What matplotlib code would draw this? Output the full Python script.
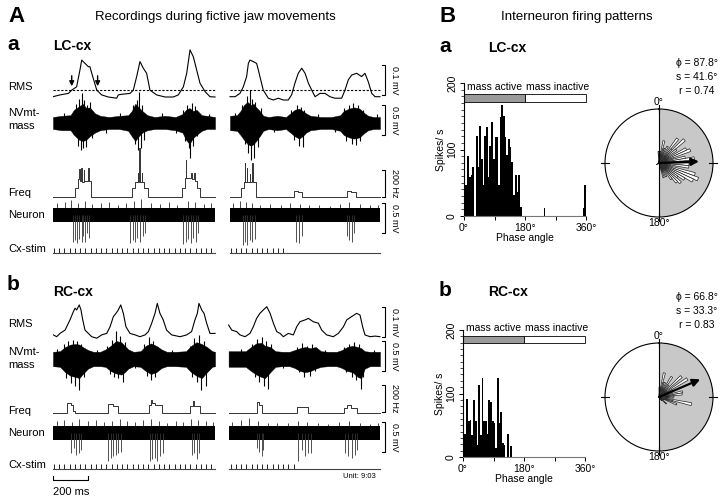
import numpy as np
import matplotlib.pyplot as plt
from matplotlib.patches import Rectangle

plt.rcParams['font.family'] = ['Liberation Sans', 'DejaVu Sans']

W, H = 720, 498
PX_PER_MS = 35 / 200.0   # 200 ms scale bar is 35 px long

# ---------------- data: panel A (time in ms, amplitudes in mV / Hz) ----------------
# a: LC-cx, left and right sweeps
rms_a_left_t = [0, 40, 88, 107, 135, 154, 164, 183, 202, 211, 227, 250, 278, 316, 364, 373, 392, 440, 459,
                478, 497, 516, 535, 554, 592, 640, 687, 716, 745, 764, 783, 802, 821, 840, 869, 897, 926]
rms_a_left = [0.001, 0.007, 0.012, 0.023, 0.034, 0.09, 0.123, 0.112, 0.101, 0.101, 0.068, 0.023, 0.007, 0.0,
              -0.004, 0.007, 0.009, 0.012, 0.023, 0.068, 0.118, 0.096, 0.079, 0.023, 0.007, 0.0, 0.0, 0.007,
              0.034, 0.079, 0.157, 0.134, 0.09, 0.046, 0.018, 0.001, 0.0]
rms_a_right_t = [0, 29, 57, 76, 95, 105, 114, 133, 152, 162, 171, 190, 219, 248, 276, 305, 333, 352, 371, 390,
                 410, 429, 448, 467, 486, 514, 543, 571, 600, 638, 657, 676, 695, 724, 752, 771, 790, 810, 829, 857]
rms_a_right = [0.001, 0.001, 0.012, 0.034, 0.068, 0.112, 0.123, 0.118, 0.112, 0.09, 0.068, 0.023, -0.004, -0.01,
               -0.004, -0.01, -0.01, 0.007, 0.046, 0.079, 0.096, 0.079, 0.046, 0.023, 0.001, 0.012, 0.012, 0.001,
               -0.004, -0.004, 0.023, 0.057, 0.073, 0.079, 0.068, 0.079, 0.051, 0.012, 0.001, 0.001]
rms_threshold = 0.022
arrow_times = [107, 255]

emg_a_left_t = [0, 50, 100, 120, 150, 170, 190, 210, 240, 270, 320, 380, 430, 450, 470, 490, 510, 540, 580,
                640, 700, 740, 760, 780, 800, 820, 850, 880, 926]
emg_a_left_up = [0.1, 0.12, 0.13, 0.22, 0.28, 0.32, 0.25, 0.26, 0.16, 0.12, 0.1, 0.12, 0.13, 0.2, 0.32, 0.26,
                 0.2, 0.13, 0.1, 0.12, 0.1, 0.15, 0.22, 0.25, 0.2, 0.22, 0.13, 0.12, 0.1]
emg_a_left_lo = [-0.1, -0.12, -0.12, -0.2, -0.28, -0.3, -0.28, -0.22, -0.16, -0.12, -0.1, -0.1, -0.13, -0.22,
                 -0.3, -0.22, -0.16, -0.12, -0.1, -0.1, -0.12, -0.16, -0.28, -0.35, -0.25, -0.2, -0.13, -0.1, -0.1]
emg_a_left_sp_t = [60, 130, 142, 150, 158, 164, 170, 178, 186, 196, 210, 222, 300, 380, 455, 468, 478, 486, 493,
                   500, 510, 520, 620, 700, 745, 755, 765, 775, 783, 792, 802, 812, 825, 890]
emg_a_left_sp = [0.17, 0.32, -0.38, 0.4, -0.45, 0.5, -0.42, 0.38, -0.4, 0.3, 0.35, -0.25, -0.16, 0.17, 0.3,
                 -0.35, 0.38, -0.45, 0.52, -0.42, 0.3, -0.28, 0.16, -0.16, 0.22, -0.3, 0.3, -0.42, -0.58, 0.33,
                 -0.38, 0.28, -0.22, 0.15]
emg_a_right_t = [0, 40, 60, 80, 100, 120, 135, 150, 170, 190, 220, 270, 320, 345, 370, 395, 415, 435, 460, 520,
                 580, 630, 650, 680, 710, 740, 770, 790, 820, 857]
emg_a_right_up = [0.12, 0.13, 0.2, 0.3, 0.35, 0.3, 0.32, 0.26, 0.2, 0.12, 0.1, 0.12, 0.1, 0.16, 0.22, 0.24, 0.2,
                  0.16, 0.12, 0.1, 0.1, 0.13, 0.2, 0.24, 0.26, 0.24, 0.16, 0.12, 0.1, 0.1]
emg_a_right_lo = [-0.12, -0.13, -0.2, -0.28, -0.35, -0.38, -0.35, -0.3, -0.22, -0.13, -0.1, -0.12, -0.1, -0.16,
                  -0.22, -0.26, -0.22, -0.16, -0.12, -0.1, -0.1, -0.13, -0.2, -0.24, -0.26, -0.24, -0.16, -0.12,
                  -0.1, -0.1]
emg_a_right_sp_t = [30, 70, 85, 95, 105, 112, 120, 128, 136, 145, 160, 175, 250, 350, 365, 380, 395, 405, 415,
                    425, 500, 600, 650, 665, 680, 695, 705, 718, 730, 745, 760, 840]
emg_a_right_sp = [0.16, 0.3, -0.35, 0.45, -0.5, 0.55, -0.62, 0.4, -0.58, 0.35, -0.4, 0.25, -0.15, 0.22, -0.28,
                  0.3, -0.38, 0.27, -0.4, 0.22, 0.15, -0.15, 0.25, -0.3, 0.3, -0.35, 0.33, -0.37, 0.3, -0.3, 0.22,
                  0.15]

freq_a_left_t = [0, 126, 145, 150, 153, 160, 163, 175, 178, 200, 204, 215, 450, 469, 484, 488, 493, 497, 507,
                 510, 520, 545, 735, 754, 758, 762, 790, 795, 808, 812, 825, 840, 926]
freq_a_left = [0, 64, 130, 210, 120, 215, 110, 200, 120, 215, 120, 0, 64, 110, 175, 110, 360, 110, 175, 110,
               64, 0, 64, 140, 275, 140, 175, 130, 175, 120, 64, 0, 0]
freq_a_right_t = [0, 61, 80, 84, 86, 97, 99, 112, 114, 126, 129, 149, 366, 390, 410, 667, 690, 720, 857]
freq_a_right = [0, 64, 110, 250, 110, 212, 110, 170, 110, 250, 110, 0, 45, 35, 0, 45, 35, 0, 0]

unit_a_left_dn_t = [114, 126, 135, 150, 164, 173, 183, 196, 208, 440, 455, 469, 482, 497, 512, 526,
                    745, 760, 773, 787, 802, 817, 830]
unit_a_left_dn = [-0.45, -0.42, -0.47, -0.4, -0.45, -0.35, -0.45, -0.3, -0.38, -0.47, -0.42, -0.45, -0.38,
                  -0.45, -0.35, -0.3, -0.48, -0.45, -0.4, -0.47, -0.38, -0.45, -0.3]
unit_a_left_up_t = [25, 70, 105, 145, 185, 225, 275, 320, 370, 415, 465, 500, 560, 610, 660, 710, 770, 810, 860, 905]
unit_a_left_up = [0.2, 0.22, 0.25, 0.2, 0.24, 0.18, 0.2, 0.22, 0.17, 0.2, 0.24, 0.26, 0.2, 0.18, 0.22, 0.17,
                  0.24, 0.22, 0.18, 0.2]
unit_a_right_dn_t = [72, 86, 99, 114, 128, 141, 377, 396, 410, 667, 682, 695, 709]
unit_a_right_dn = [-0.5, -0.45, -0.5, -0.42, -0.45, -0.4, -0.45, -0.47, -0.35, -0.35, -0.42, -0.45, -0.3]
unit_a_right_up_t = [15, 55, 90, 125, 170, 230, 290, 345, 400, 450, 510, 570, 630, 680, 740, 800, 845]
unit_a_right_up = [0.2, 0.24, 0.22, 0.2, 0.17, 0.18, 0.16, 0.2, 0.18, 0.16, 0.17, 0.15, 0.18, 0.22, 0.18,
                   0.16, 0.17]

# b: RC-cx
rms_b_left_t = [2, 21, 40, 69, 97, 116, 126, 135, 150, 160, 170, 183, 202, 221, 250, 278, 307, 326, 345, 360,
                373, 387, 402, 417, 440, 469, 497, 526, 545, 564, 583, 596, 611, 630, 649, 678, 726, 764, 792,
                811, 825, 834, 850, 863, 878, 897, 926]
rms_b_left = [0.007, 0.001, 0.012, 0.023, 0.057, 0.084, 0.096, 0.09, 0.107, 0.09, 0.057, 0.023, 0.012, 0.001,
              -0.004, 0.007, 0.012, 0.034, 0.068, 0.079, 0.09, 0.107, 0.079, 0.034, 0.012, 0.007, 0.001, 0.007,
              0.018, 0.046, 0.079, 0.112, 0.079, 0.057, 0.023, 0.007, 0.001, 0.007, 0.018, 0.057, 0.079, 0.112,
              0.09, 0.079, 0.046, 0.012, 0.012]
rms_b_right_t = [-8, 10, 38, 57, 86, 114, 133, 152, 171, 190, 210, 229, 248, 267, 286, 305, 333, 362, 381, 400,
                 429, 448, 476, 505, 524, 552, 590, 619, 648, 667, 695, 724, 743, 758, 771, 800, 829, 857]
rms_b_right = [0.04, 0.023, 0.018, 0.007, 0.001, 0.012, 0.034, 0.062, 0.079, 0.09, 0.101, 0.079, 0.046, 0.018,
               0.012, 0.001, 0.012, 0.007, 0.034, 0.051, 0.057, 0.062, 0.051, 0.046, 0.023, 0.007, 0.001, 0.012,
               0.034, 0.057, 0.068, 0.079, 0.073, 0.034, 0.007, 0.001, 0.003, 0.001]

emg_b_left_t = [0, 40, 70, 100, 130, 150, 170, 200, 230, 270, 300, 330, 360, 390, 410, 430, 460, 500, 530, 560,
                590, 620, 650, 700, 760, 790, 820, 850, 880, 910, 926]
emg_b_left_up = [0.12, 0.13, 0.2, 0.24, 0.25, 0.24, 0.2, 0.15, 0.12, 0.12, 0.16, 0.22, 0.3, 0.28, 0.22, 0.16,
                 0.12, 0.13, 0.22, 0.26, 0.22, 0.16, 0.12, 0.12, 0.13, 0.22, 0.28, 0.25, 0.2, 0.13, 0.12]
emg_b_left_lo = [-0.12, -0.13, -0.22, -0.28, -0.3, -0.32, -0.25, -0.16, -0.12, -0.12, -0.13, -0.2, -0.24, -0.26,
                 -0.22, -0.16, -0.12, -0.13, -0.2, -0.25, -0.22, -0.15, -0.12, -0.12, -0.13, -0.22, -0.28, -0.32,
                 -0.22, -0.13, -0.12]
emg_b_left_sp_t = [20, 60, 75, 88, 100, 112, 125, 138, 150, 160, 175, 250, 310, 325, 338, 350, 360, 372, 385,
                   398, 410, 470, 520, 535, 548, 560, 572, 585, 600, 680, 780, 795, 808, 820, 835, 848, 860, 875]
emg_b_left_sp = [0.16, 0.25, -0.32, 0.3, -0.4, 0.32, -0.45, 0.3, -0.52, 0.25, -0.3, 0.15, 0.22, -0.25, 0.32,
                 -0.3, 0.46, -0.32, 0.38, -0.38, 0.28, -0.15, 0.25, -0.28, 0.37, -0.35, 0.3, -0.3, 0.2, 0.15, 0.22,
                 -0.3, 0.35, -0.38, 0.4, -0.52, 0.3, -0.45]
emg_b_right_t = [-8, 40, 90, 120, 150, 180, 200, 230, 260, 300, 340, 370, 400, 430, 460, 490, 520, 560, 610, 640,
                 670, 700, 730, 750, 770, 800, 830, 857]
emg_b_right_up = [0.13, 0.13, 0.13, 0.2, 0.26, 0.27, 0.22, 0.2, 0.13, 0.12, 0.12, 0.15, 0.18, 0.2, 0.18, 0.2,
                  0.13, 0.12, 0.12, 0.15, 0.2, 0.22, 0.2, 0.18, 0.13, 0.12, 0.12, 0.12]
emg_b_right_lo = [-0.13, -0.13, -0.13, -0.2, -0.26, -0.3, -0.32, -0.22, -0.13, -0.12, -0.12, -0.15, -0.2, -0.22,
                  -0.2, -0.16, -0.13, -0.12, -0.12, -0.15, -0.2, -0.22, -0.3, -0.32, -0.16, -0.12, -0.12, -0.12]
emg_b_right_sp_t = [60, 125, 140, 155, 168, 180, 192, 205, 218, 232, 300, 380, 395, 410, 425, 440, 455, 470, 485,
                    540, 650, 665, 680, 695, 710, 722, 735, 748, 760, 820]
emg_b_right_sp = [0.17, 0.25, -0.3, 0.33, -0.38, 0.37, -0.45, 0.3, -0.5, 0.25, -0.15, 0.2, -0.22, 0.26, -0.3,
                  0.22, -0.28, 0.25, -0.2, 0.15, 0.2, -0.22, 0.25, -0.3, 0.28, -0.35, 0.25, -0.5, -0.3, 0.15]

freq_b_left_t = [0, 82, 101, 112, 126, 316, 345, 373, 550, 562, 566, 580, 621, 783, 800, 804, 821, 840, 926]
freq_b_left = [0, 74, 57, 15, 0, 64, 50, 0, 60, 100, 75, 58, 0, 55, 90, 50, 50, 0, 0]
freq_b_right_t = [-8, 152, 166, 181, 385, 448, 651, 670, 690, 724, 857]
freq_b_right = [0, 81, 57, 0, 44, 0, 40, 57, 40, 0, 0]

unit_b_left_dn_t = [105, 118, 131, 147, 162, 316, 330, 345, 358, 373, 387, 554, 568, 583, 596, 611, 627,
                    792, 806, 821, 834]
unit_b_left_dn = [-0.33, -0.25, -0.36, -0.33, -0.28, -0.47, -0.42, -0.39, -0.36, -0.33, -0.31, -0.47, -0.44,
                  -0.42, -0.47, -0.39, -0.33, -0.36, -0.33, -0.44, -0.33]
unit_b_left_up_t = [20, 65, 110, 150, 200, 245, 290, 335, 380, 420, 470, 515, 560, 605, 650, 700, 745, 790,
                    830, 875, 915]
unit_b_left_up = [0.2, 0.22, 0.18, 0.24, 0.2, 0.22, 0.18, 0.2, 0.24, 0.2, 0.18, 0.22, 0.24, 0.2, 0.17, 0.2,
                  0.18, 0.24, 0.22, 0.2, 0.18]
unit_b_right_dn_t = [152, 168, 181, 190, 390, 410, 429, 448, 461, 657, 676, 695, 714, 728]
unit_b_right_dn = [-0.25, -0.31, -0.39, -0.28, -0.47, -0.28, -0.39, -0.33, -0.33, -0.33, -0.39, -0.42, -0.36,
                   -0.28]
unit_b_right_up_t = [10, 60, 110, 160, 215, 270, 330, 390, 440, 500, 560, 620, 680, 740, 800, 845]
unit_b_right_up = [0.18, 0.22, 0.25, 0.2, 0.17, 0.16, 0.17, 0.2, 0.18, 0.16, 0.15, 0.18, 0.2, 0.17, 0.15, 0.16]

stim_left = [5, 35, 65, 95, 125, 155, 185, 215, 245, 275, 305, 335, 365, 395, 425, 455, 485, 515, 545, 575,
             605, 635, 665, 695, 725, 755, 785, 815, 845, 875, 905]
stim_a_right = [3, 33, 63, 93, 123, 153, 183, 213, 243, 273, 303]
stim_b_right = [3, 33, 63, 93, 123, 153, 183, 213, 243, 273, 303, 333, 363]

# ---------------- data: panel B (phase histograms, 5 deg bins) ----------------
phase_edges = np.arange(0, 361, 5)
hist_lc = [46, 46, 90, 59, 62, 74, 0, 121, 74, 136, 86, 46, 121, 134, 59, 106, 141, 86, 119, 119, 46, 149, 167,
           151, 119, 91, 116, 104, 81, 31, 61, 36, 61, 14, 0, 0,
           0, 0, 0, 0, 0, 0, 0, 0, 0, 0, 0, 12, 0, 0, 0, 0, 0, 0, 0, 0, 0, 0, 0, 0, 0, 0, 0, 0, 0, 0, 0, 0, 0, 0,
           12, 46]
hist_rc = [37, 37, 92, 56, 58, 35, 89, 56, 19, 113, 35, 125, 56, 56, 37, 90, 87, 56, 53, 14, 124, 53, 71, 22,
           19, 0, 37, 0, 17, 0, 0, 0, 0, 0, 0, 0,
           0, 0, 0, 0, 0, 0, 0, 0, 0, 0, 0, 0, 0, 0, 0, 0, 0, 0, 0, 0, 0, 0, 0, 0, 0, 0, 0, 0, 0, 0, 0, 0, 0, 0,
           0, 0]
stats_lc = {'phi': 87.8, 's': 41.6, 'r': 0.74}
stats_rc = {'phi': 66.8, 's': 33.3, 'r': 0.83}

# ---------------- figure ----------------
fig = plt.figure(figsize=(7.2, 4.98), dpi=100)


def ftext(x, y, s, **kw):
    fig.text(x / W, 1 - y / H, s, **kw)


axA = fig.add_axes([53 / W, 0, (400 - 53) / W, 1])
axA.set_xlim(0, (400 - 53) / PX_PER_MS)
axA.set_ylim(H, 0)
axA.axis('off')
RIGHT = (230 - 53) / PX_PER_MS
RMS_S, EMG_S, FREQ_S, UNIT_S = 300, 60, 0.135, 60   # px per unit


def trace(t, v, base, scale, off, **kw):
    axA.plot(np.array(t) + off, base - np.array(v) * scale, **kw)


def emg(t, up, lo, sp_t, sp, base, off):
    t = np.array(t) + off
    axA.fill_between(t, base - np.array(up) * EMG_S, base - np.array(lo) * EMG_S,
                     color='black', lw=0.3)
    axA.vlines(np.array(sp_t) + off, base, base - np.array(sp) * EMG_S, color='black', lw=0.8)


def unit(t_up, v_up, t_dn, v_dn, t0, t1, base, off):
    axA.fill_between([t0 + off, t1 + off], base - 0.11 * UNIT_S, base + 0.11 * UNIT_S, color='black', lw=0)
    axA.vlines(np.array(t_up) + off, base, base - np.array(v_up) * UNIT_S, color='black', lw=0.5)
    axA.vlines(np.array(t_dn) + off, base, base - np.array(v_dn) * UNIT_S, color='#333333', lw=0.6)


def stim(ticks, t0, t1, base, off):
    axA.vlines(np.array(ticks) + off, base, base - 5, color='black', lw=0.6)
    axA.plot([t0 + off, t1 + off], [base, base], color='#444444', lw=0.8)


def scalebar(y0, y1, label):
    xb = (385 - 53) / PX_PER_MS
    dx = 3.5 / PX_PER_MS
    axA.plot([xb - dx, xb, xb, xb - dx], [y0, y0, y1, y1], color='black', lw=0.8, clip_on=False)
    axA.text(xb + 9 / PX_PER_MS, (y0 + y1) / 2, label, rotation=270, ha='center', va='center', fontsize=6.5)


rows = {
    'a': dict(rms=97, emg=123, freq=197, unit=215, stim=253,
              rms_l=(rms_a_left_t, rms_a_left), rms_r=(rms_a_right_t, rms_a_right),
              emg_l=(emg_a_left_t, emg_a_left_up, emg_a_left_lo, emg_a_left_sp_t, emg_a_left_sp),
              emg_r=(emg_a_right_t, emg_a_right_up, emg_a_right_lo, emg_a_right_sp_t, emg_a_right_sp),
              fq_l=(freq_a_left_t, freq_a_left), fq_r=(freq_a_right_t, freq_a_right),
              un_l=(unit_a_left_up_t, unit_a_left_up, unit_a_left_dn_t, unit_a_left_dn),
              un_r=(unit_a_right_up_t, unit_a_right_up, unit_a_right_dn_t, unit_a_right_dn),
              st_r=stim_a_right, span_l=(0, 926), span_r=(0, 857),
              bars=[(65, 95, '0.1 mV'), (105, 135, '0.5 mV'), (170, 197, '200 Hz'), (203, 233, '0.5 mV')]),
    'b': dict(rms=337, emg=359, freq=413, unit=433, stim=469,
              rms_l=(rms_b_left_t, rms_b_left), rms_r=(rms_b_right_t, rms_b_right),
              emg_l=(emg_b_left_t, emg_b_left_up, emg_b_left_lo, emg_b_left_sp_t, emg_b_left_sp),
              emg_r=(emg_b_right_t, emg_b_right_up, emg_b_right_lo, emg_b_right_sp_t, emg_b_right_sp),
              fq_l=(freq_b_left_t, freq_b_left), fq_r=(freq_b_right_t, freq_b_right),
              un_l=(unit_b_left_up_t, unit_b_left_up, unit_b_left_dn_t, unit_b_left_dn),
              un_r=(unit_b_right_up_t, unit_b_right_up, unit_b_right_dn_t, unit_b_right_dn),
              st_r=stim_b_right, span_l=(0, 926), span_r=(-8, 857),
              bars=[(307, 337, '0.1 mV'), (341, 371, '0.5 mV'), (385, 412, '200 Hz'), (422, 452, '0.5 mV')]),
}

for key, r in rows.items():
    for side, off in (('l', 0), ('r', RIGHT)):
        t, v = r['rms_' + side]
        trace(t, v, r['rms'], RMS_S, off, color='black', lw=0.8)
        emg(*r['emg_' + side], r['emg'], off)
        t, v = r['fq_' + side]
        axA.step(np.array(t) + off, r['freq'] - np.array(v) * FREQ_S, where='post', color='#333333', lw=0.7)
        t0, t1 = r['span_' + side]
        unit(*r['un_' + side], t0, t1, r['unit'], off)
        stim(stim_left if side == 'l' else r['st_r'], t0, t1, r['stim'], off)
    for y0, y1, lab in r['bars']:
        scalebar(y0, y1, lab)

# threshold line and arrows (a)
for t0, t1, off in ((0, 926, 0), (0, 857, RIGHT)):
    axA.plot([t0 + off, t1 + off], [97 - rms_threshold * RMS_S] * 2, color='black', lw=0.8, ls=(0, (2, 1.5)))
for ta in arrow_times:
    axA.annotate('', xy=(ta, 89), xytext=(ta, 73),
                 arrowprops=dict(arrowstyle='-|>', color='black', lw=1.0, mutation_scale=7))

# 200 ms scale bar
axA.plot([0, 0, 200, 200], [476, 480, 480, 476], color='black', lw=0.8)
ftext(53, 492, '200 ms', fontsize=8, va='center')
ftext(343, 476, 'Unit: 9:03', fontsize=5.5, va='center')

# left labels
for y_rms, y_nv, y_fq, y_un, y_st in ((87, 113, 193, 215, 249), (324, 352, 411, 433, 465)):
    ftext(8, y_rms, 'RMS', fontsize=8, va='center')
    ftext(8, y_nv, 'NVmt-', fontsize=8, va='center')
    ftext(8, y_nv + 13, 'mass', fontsize=8, va='center')
    ftext(8, y_fq, 'Freq', fontsize=8, va='center')
    ftext(8, y_un, 'Neuron', fontsize=8, va='center')
    ftext(8, y_st, 'Cx-stim', fontsize=8, va='center')

ftext(8, 17, 'A', fontsize=16, fontweight='bold', va='center')
ftext(215, 17, 'Recordings during fictive jaw movements', fontsize=9.5, ha='center', va='center')
ftext(7, 44, 'a', fontsize=15, fontweight='bold', va='center')
ftext(53, 46, 'LC-cx', fontsize=10, fontweight='bold', va='center')
ftext(7, 284, 'b', fontsize=15, fontweight='bold', va='center')
ftext(53, 292, 'RC-cx', fontsize=10, fontweight='bold', va='center')

ftext(439, 17, 'B', fontsize=16, fontweight='bold', va='center')
ftext(577, 17, 'Interneuron firing patterns', fontsize=9.5, ha='center', va='center')

# ---------------- panel B ----------------
panels = [
    dict(hist=hist_lc, st=stats_lc, lab='a', name='LC-cx', lab_y=46, box=(464, 216, 586, 83),
         bar=(172, 183), text_y=194, cy=163, stat_y=63, petal=0.78),
    dict(hist=hist_rc, st=stats_rc, lab='b', name='RC-cx', lab_y=290, box=(463, 457, 585, 330),
         bar=(179, 190), text_y=203, cy=397, stat_y=297, petal=0.62),
]
for p in panels:
    ftext(439, p['lab_y'], p['lab'], fontsize=15, fontweight='bold', va='center')
    ftext(488, p['lab_y'] + 2, p['name'], fontsize=10, fontweight='bold', va='center')

    x0, yb, x1, yt = p['box']
    ax = fig.add_axes([x0 / W, 1 - yb / H, (x1 - x0) / W, (yb - yt) / H])
    ax.stairs(p['hist'], phase_edges, fill=True, color='black', linewidth=0)
    ax.set_xlim(0, 360)
    ax.set_ylim(0, 200)
    ax.spines['top'].set_visible(False)
    ax.spines['right'].set_visible(False)
    ax.spines['left'].set_linewidth(0.8)
    ax.spines['bottom'].set_color('#777777')
    ax.set_xticks([0, 180, 360])
    ax.set_xticklabels(['0°', '180°', '360°'])
    ax.set_xticks([90, 270], minor=True)
    ax.set_yticks([0, 100, 200])
    ax.set_yticks(np.arange(0, 201, 10), minor=True)
    ax.tick_params(labelsize=7.5, length=3, width=0.7, pad=2)
    ax.tick_params(axis='y', which='minor', length=2, width=0.5)
    ax.tick_params(axis='x', which='minor', length=3, width=0.7)
    for lbl in ax.get_yticklabels():
        lbl.set_rotation(90)
        lbl.set_va('center')
    ax.set_ylabel('Spikes/ s', fontsize=7.5, labelpad=1)
    ax.set_xlabel('Phase angle', fontsize=7.5, labelpad=0)
    b0, b1 = p['bar']
    ax.add_patch(Rectangle((0, b0), 180, b1 - b0, facecolor='#9a9a9a', edgecolor='black', lw=0.6, clip_on=False))
    ax.add_patch(Rectangle((180, b0), 180, b1 - b0, facecolor='white', edgecolor='black', lw=0.6, clip_on=False))
    ax.text(90, p['text_y'], 'mass active', ha='center', va='center', fontsize=7.5, clip_on=False)
    ax.text(275, p['text_y'], 'mass inactive', ha='center', va='center', fontsize=7.5, clip_on=False)

    # circular plot: rose of the same phase histogram
    cy = p['cy']
    axp = fig.add_axes([605 / W, 1 - (cy + 54) / H, 108 / W, 108 / H], projection='polar')
    axp.set_theta_zero_location('N')
    axp.set_theta_direction(-1)
    axp.bar(np.pi / 2, 1, width=np.pi, color='#c8c8c8', linewidth=0)
    h = np.array(p['hist'], dtype=float)
    axp.bar(np.deg2rad(phase_edges[:-1] + 2.5), h / h.max() * p['petal'], width=np.deg2rad(5),
            color='white', edgecolor='#222222', linewidth=0.5)
    axp.plot([0, 0], [0, 1], color='black', lw=0.8)
    axp.plot([np.pi, np.pi], [0, 1], color='black', lw=0.8)
    for a in (0, 90, 180, 270):
        axp.plot([np.deg2rad(a)] * 2, [0.93, 1.07], color='black', lw=0.8, clip_on=False)
    axp.annotate('', xy=(np.deg2rad(p['st']['phi']), p['st']['r']), xytext=(0, 0),
                 arrowprops=dict(arrowstyle='-|>', color='black', lw=1.6, mutation_scale=11,
                                 shrinkA=0, shrinkB=0))
    axp.set_ylim(0, 1)
    axp.grid(False)
    axp.set_xticks([])
    axp.set_yticks([])
    axp.spines['polar'].set_linewidth(0.8)

    ftext(659, cy - 61, '0°', fontsize=7.5, ha='center', va='center')
    ftext(659, cy + 60, '180°', fontsize=7.5, ha='center', va='center')
    sy = p['stat_y']
    ftext(697, sy, 'ϕ = %.1f°' % p['st']['phi'], fontsize=7.5, ha='center', va='center')
    ftext(697, sy + 14, 's = %.1f°' % p['st']['s'], fontsize=7.5, ha='center', va='center')
    ftext(697, sy + 28, 'r = %.2f' % p['st']['r'], fontsize=7.5, ha='center', va='center')

fig.savefig('out.png', dpi=100)
